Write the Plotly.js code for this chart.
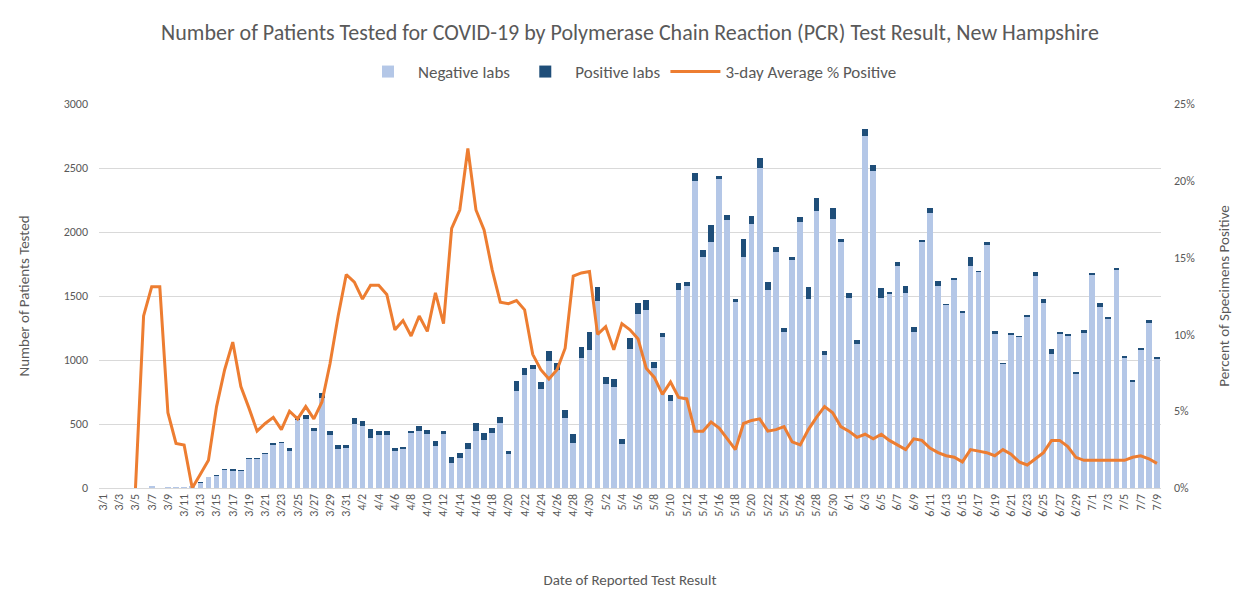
<!DOCTYPE html>
<html>
<head>
<meta charset="utf-8">
<script src="https://cdn.plot.ly/plotly-3.0.1.min.js"></script>
<style>
  html, body { margin: 0; padding: 0; background: #ffffff; }
  #chart { width: 1233px; height: 592px; }
</style>
</head>
<body>
<div id="chart"></div>
<script>
// Dates of reported test result (3/1 .. 7/9)
const dates = [
  "3/1","3/2","3/3","3/4","3/5","3/6","3/7","3/8","3/9","3/10","3/11","3/12","3/13","3/14","3/15","3/16",
  "3/17","3/18","3/19","3/20","3/21","3/22","3/23","3/24","3/25","3/26","3/27","3/28","3/29","3/30","3/31",
  "4/1","4/2","4/3","4/4","4/5","4/6","4/7","4/8","4/9","4/10","4/11","4/12","4/13","4/14","4/15",
  "4/16","4/17","4/18","4/19","4/20","4/21","4/22","4/23","4/24","4/25","4/26","4/27","4/28","4/29","4/30",
  "5/1","5/2","5/3","5/4","5/5","5/6","5/7","5/8","5/9","5/10","5/11","5/12","5/13","5/14","5/15","5/16",
  "5/17","5/18","5/19","5/20","5/21","5/22","5/23","5/24","5/25","5/26","5/27","5/28","5/29","5/30","5/31",
  "6/1","6/2","6/3","6/4","6/5","6/6","6/7","6/8","6/9","6/10","6/11","6/12","6/13","6/14","6/15",
  "6/16","6/17","6/18","6/19","6/20","6/21","6/22","6/23","6/24","6/25","6/26","6/27","6/28","6/29","6/30",
  "7/1","7/2","7/3","7/4","7/5","7/6","7/7","7/8","7/9"
];

// Negative labs (patients)
const negativeLabs = [
  0,0,0,0,0,2,12,3,7,9,8,12,43,85,97,144,
  134,133,227,227,264,336,350,290,528,540,448,705,413,308,311,
  499,483,393,415,415,290,303,426,442,423,332,425,195,231,304,
  445,377,426,507,269,755,880,931,776,995,924,549,352,1014,1076,
  1458,810,789,343,1084,1358,1389,937,1178,680,1547,1582,2398,1802,1925,2413,
  2090,1454,1805,2065,2503,1547,1845,1222,1782,2077,1478,2168,1043,2105,1920,
  1481,1123,2751,2476,1484,1519,1738,1525,1218,1925,2150,1578,1428,1622,1369,
  1735,1687,1899,1204,965,1198,1178,1334,1655,1449,1049,1201,1188,894,1214,
  1662,1413,1318,1701,1019,829,1076,1293,1006
];

// Positive labs (patients)
const positiveLabs = [
  0,0,0,0,0,0,3,0,1,1,2,0,2,3,5,8,
  12,8,10,10,12,18,12,20,22,30,18,40,35,28,25,
  45,40,65,30,30,20,20,22,45,30,35,20,45,40,45,
  60,50,40,45,20,80,60,30,55,75,50,60,70,85,140,
  110,60,60,40,85,90,80,50,30,50,55,30,60,55,130,25,
  40,20,140,60,75,65,40,25,20,40,90,100,30,80,25,
  40,35,55,50,80,15,30,55,40,15,35,40,10,20,15,
  70,10,25,25,15,10,10,15,35,25,40,20,15,15,20,
  20,30,15,20,15,15,15,20,15
];

// 3-day average % positive
const avgPctPositive = [
  null,null,null,null,0,11.2,13.1,13.1,4.9,2.9,2.8,0,0.9,1.8,5.3,7.7,
  9.5,6.6,5.2,3.7,4.2,4.6,3.8,5.0,4.5,5.3,4.5,5.6,8.1,11.2,13.9,
  13.4,12.3,13.2,13.2,12.6,10.3,10.9,9.9,11.2,10.2,12.7,10.7,16.9,18.1,22.1,
  18.1,16.8,14.2,12.1,12.0,12.2,11.6,8.7,7.7,7.1,7.7,9.1,13.8,14.0,14.1,
  10.0,10.5,9.0,10.7,10.3,9.7,7.8,7.2,6.1,6.9,5.9,5.8,3.7,3.7,4.3,3.9,
  3.2,2.5,4.2,4.4,4.5,3.7,3.8,4.0,3.0,2.8,3.8,4.6,5.3,4.9,4.0,
  3.7,3.3,3.5,3.2,3.5,3.1,2.8,2.5,3.2,3.1,2.6,2.3,2.1,2.0,1.7,
  2.5,2.4,2.3,2.1,2.5,2.2,1.7,1.5,1.9,2.3,3.1,3.1,2.7,2.0,1.8,
  1.8,1.8,1.8,1.8,1.8,2.0,2.1,1.9,1.6
];

const leftTicks = [0, 500, 1000, 1500, 2000, 2500, 3000];
const rightTicks = [0, 5, 10, 15, 20, 25];
const rightTickText = ["0%", "5%", "10%", "15%", "20%", "25%"];

const xTickVals = dates.filter((d, i) => i % 2 === 0);

const FONT = 'Carlito, "Liberation Sans", Arial, sans-serif';
const GREY = '#595959';

const traces = [
  {
    type: 'bar', name: 'Negative labs', x: dates, y: negativeLabs,
    marker: { color: '#b4c7e7' }, hoverinfo: 'x+y'
  },
  {
    type: 'bar', name: 'Positive labs', x: dates, y: positiveLabs,
    marker: { color: '#1f4e79' }, hoverinfo: 'x+y'
  },
  {
    type: 'scatter', mode: 'lines', name: '3-day Average % Positive',
    x: dates, y: avgPctPositive, yaxis: 'y2',
    line: { color: '#ed7d31', width: 3 }, connectgaps: false
  }
];

const layout = {
  width: 1233, height: 592,
  paper_bgcolor: '#ffffff', plot_bgcolor: '#ffffff',
  font: { family: FONT, color: GREY, size: 12 },
  margin: { l: 99, r: 72, t: 104, b: 104, pad: 0 },
  barmode: 'stack', bargap: 0.3,
  showlegend: true,
  title: {
    text: 'Number of Patients Tested for COVID-19 by Polymerase Chain Reaction (PCR) Test Result, New Hampshire',
    font: { family: FONT, size: 22, color: GREY },
    x: 0.5, xanchor: 'center', xref: 'paper',
    y: 1 - 32 / 592, yanchor: 'middle'
  },
  legend: {
    orientation: 'h', x: 0.5, xanchor: 'center', y: 1 + (104 - 72) / 384, yanchor: 'middle',
    font: { family: FONT, size: 17, color: GREY }, traceorder: 'normal', itemwidth: 50
  },
  xaxis: {
    type: 'category', tickangle: -90, tickmode: 'array', tickvals: xTickVals, ticktext: xTickVals,
    tickfont: { family: FONT, size: 12, color: GREY }, showgrid: false,
    showline: true, linecolor: '#d9d9d9', linewidth: 1, ticks: '', automargin: false,
    title: { text: 'Date of Reported Test Result', font: { family: FONT, size: 15, color: GREY }, standoff: 58 }
  },
  yaxis: {
    range: [0, 3000], tickmode: 'array', tickvals: leftTicks,
    tickfont: { family: FONT, size: 12, color: GREY },
    gridcolor: '#d9d9d9', gridwidth: 1, zeroline: false, showline: false, ticks: '',
    ticklabelstandoff: 10, automargin: false,
    title: { text: 'Number of Patients Tested', font: { family: FONT, size: 15, color: GREY }, standoff: 30 }
  },
  yaxis2: {
    overlaying: 'y', side: 'right', range: [0, 25], tickmode: 'array',
    tickvals: rightTicks, ticktext: rightTickText,
    tickfont: { family: FONT, size: 12, color: GREY }, showgrid: false, zeroline: false,
    ticks: '', ticklabelstandoff: 12, automargin: false,
    title: { text: 'Percent of Specimens Positive', font: { family: FONT, size: 15, color: GREY }, standoff: 24 }
  }
};

Plotly.newPlot('chart', traces, layout, { displayModeBar: false, staticPlot: true });
</script>
</body>
</html>
